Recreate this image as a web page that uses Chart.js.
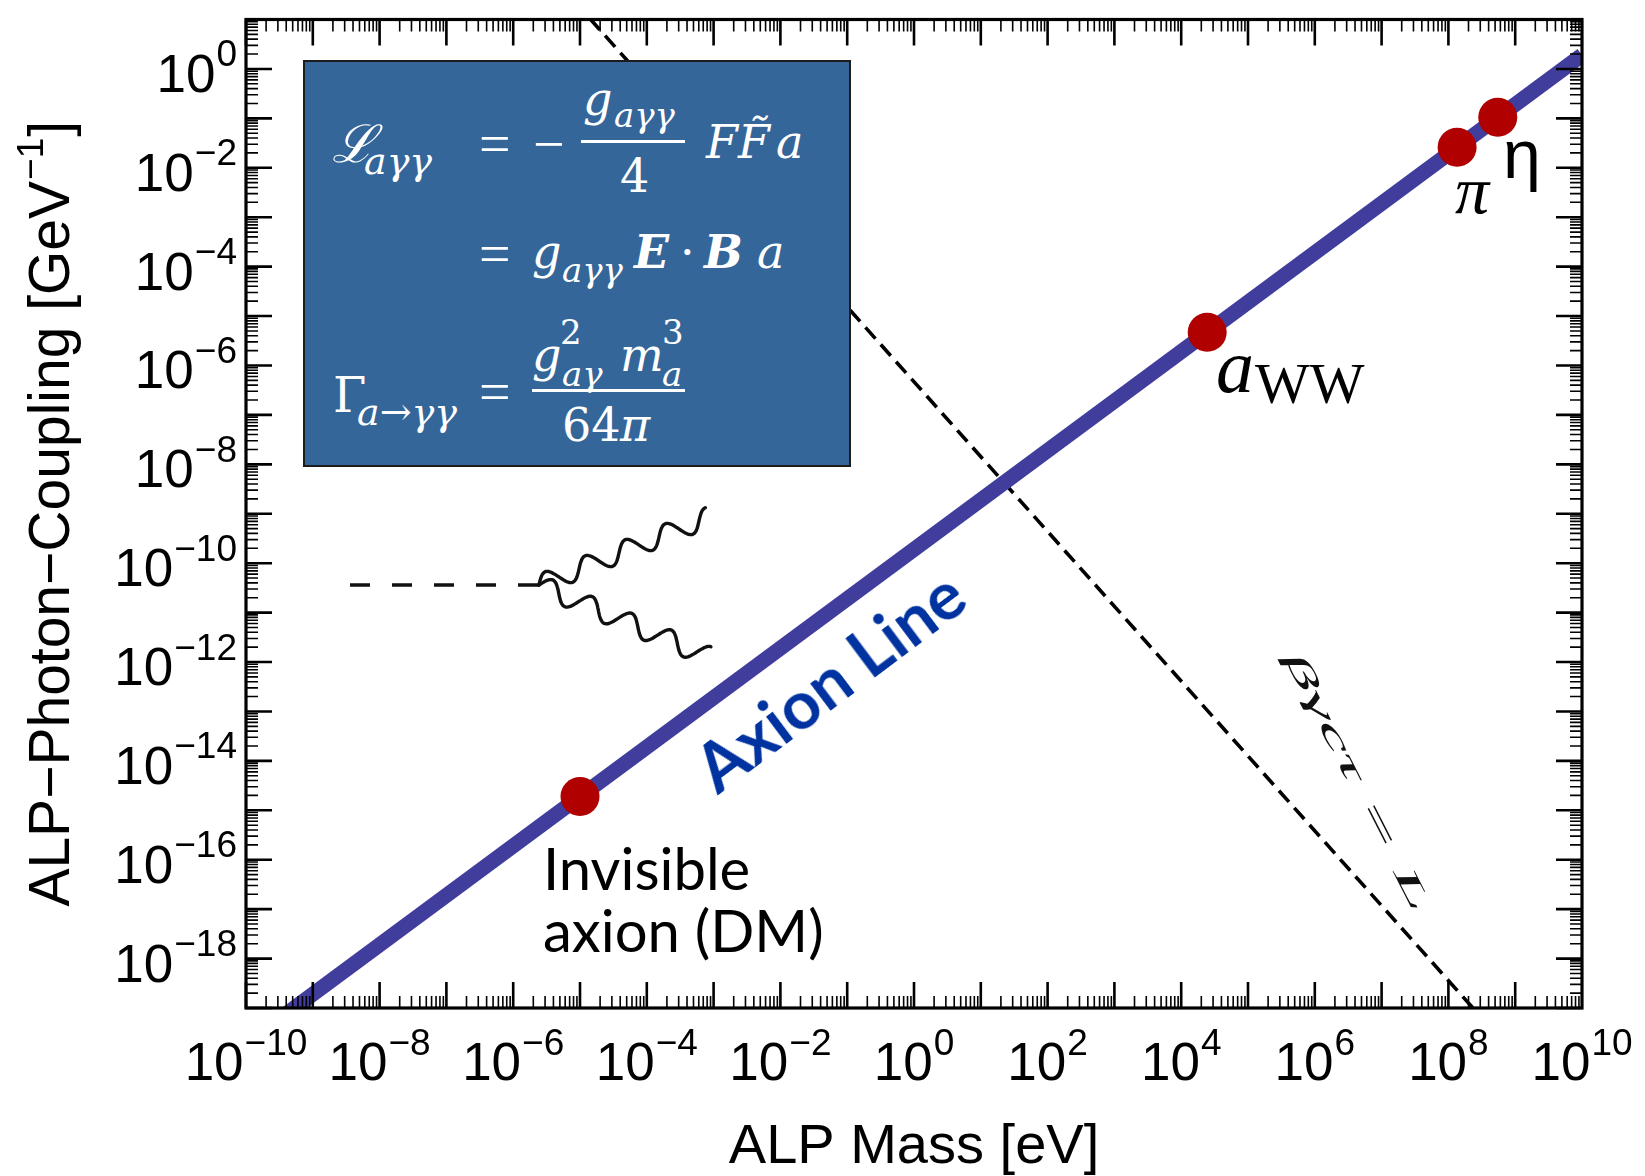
<!DOCTYPE html>
<html><head><meta charset="utf-8">
<script src="https://cdn.jsdelivr.net/npm/chart.js@4.4.1/dist/chart.umd.min.js"></script>
<style>
html,body{margin:0;padding:0;background:#fff;}
#wrap{position:relative;width:1645px;height:1176px;overflow:hidden;background:#fff;}
#c{position:absolute;left:0;top:0;}
#ov{position:absolute;left:0;top:0;width:1645px;height:1176px;}
.t{position:absolute;white-space:nowrap;}
</style></head><body>
<div id="wrap"><canvas id="c" width="1645" height="1176"></canvas><div id="ov"></div></div>
<script>
// ---------------- data ----------------
const massRange = [1e-10, 1e10];          // eV
const couplingRange = [1e-19, 1e1];       // GeV^-1
const xTickExps = [-10, -8, -6, -4, -2, 0, 2, 4, 6, 8, 10];
const yTickExps = [-18, -16, -14, -12, -10, -8, -6, -4, -2, 0];
const axionLineMass = [1e-10, 1e10];
const axionLineCoupling = [1.9e-20, 1.9];
const decayLineMass = [1e-6, 1e9];
const decayLineCoupling = [5.7e2, 1.1e-20];
const pointNames = ['Invisible axion (DM)', 'a_WW', 'π', 'η'];
const pointMass = [1e-5, 2.45e4, 1.35e8, 5.48e8];
const pointCoupling = [1.9e-15, 4.7e-6, 2.6e-2, 1.05e-1];

// ---------------- frame / ticks / axis labels plugin ----------------
const SANS = "'Liberation Sans', Arial, sans-serif";
function pow10(ctx, e, x, yb, align) {
  const B = 53, E = 37;
  const base = '10', ex = (e < 0 ? '\u2212' : '') + Math.abs(e);
  ctx.font = B + 'px ' + SANS; const wb = ctx.measureText(base).width;
  ctx.font = E + 'px ' + SANS; const we = ctx.measureText(ex).width;
  const gap = 1, tot = wb + gap + we;
  const sx = align === 'center' ? x - tot / 2 : x - tot;
  ctx.textAlign = 'left'; ctx.textBaseline = 'alphabetic'; ctx.fillStyle = '#000';
  ctx.font = B + 'px ' + SANS; ctx.fillText(base, sx, yb);
  ctx.font = E + 'px ' + SANS; ctx.fillText(ex, sx + wb + gap, yb - 0.48 * B);
}
const framePlugin = {
  id: 'frame',
  afterDraw(chart) {
    const {ctx, chartArea: a, scales: {x, y}} = chart;
    ctx.save();
    ctx.strokeStyle = '#000';
    const MAJ = 26, MIN = 12;
    for (let e = -10; e < 10; e++) {
      for (let m = 1; m <= 9; m++) {
        const v = m * Math.pow(10, e);
        const px = x.getPixelForValue(v);
        const len = m === 1 ? MAJ : MIN;
        ctx.lineWidth = m === 1 ? 2.6 : 1.6;
        ctx.beginPath();
        ctx.moveTo(px, a.bottom); ctx.lineTo(px, a.bottom - len);
        ctx.moveTo(px, a.top); ctx.lineTo(px, a.top + len);
        ctx.stroke();
      }
    }
    for (let e = -19; e < 1; e++) {
      for (let m = 1; m <= 9; m++) {
        const v = m * Math.pow(10, e);
        const py = y.getPixelForValue(v);
        const len = m === 1 ? MAJ : MIN;
        ctx.lineWidth = m === 1 ? 2.6 : 1.6;
        ctx.beginPath();
        ctx.moveTo(a.left, py); ctx.lineTo(a.left + len, py);
        ctx.moveTo(a.right, py); ctx.lineTo(a.right - len, py);
        ctx.stroke();
      }
    }
    ctx.lineWidth = 3.2;
    ctx.strokeRect(a.left, a.top, a.right - a.left, a.bottom - a.top);

    // tick labels
    xTickExps.forEach(e => pow10(ctx, e, x.getPixelForValue(Math.pow(10, e)), 1080, 'center'));
    yTickExps.forEach(e => pow10(ctx, e, a.left - 9, y.getPixelForValue(Math.pow(10, e)) + 23, 'right'));

    // axis titles
    const T = 56, TS = 37;
    ctx.fillStyle = '#000'; ctx.textAlign = 'left';
    ctx.font = T + 'px ' + SANS;
    const xt = 'ALP Mass [eV]';
    const wxt = ctx.measureText(xt).width;
    ctx.fillText(xt, (a.left + a.right) / 2 - wxt / 2, 1163);

    const p1 = 'ALP\u2212Photon\u2212Coupling [GeV', p2 = '\u22121', p3 = ']';
    const TY = 57;
    ctx.font = TY + 'px ' + SANS; const w1 = ctx.measureText(p1).width, w3 = ctx.measureText(p3).width;
    ctx.font = TS + 'px ' + SANS; const w2 = ctx.measureText(p2).width;
    const tot = w1 + w2 + w3 + 2;
    ctx.translate(69, (a.top + a.bottom) / 2);
    ctx.rotate(-Math.PI / 2);
    let sx = -tot / 2;
    ctx.font = TY + 'px ' + SANS; ctx.fillText(p1, sx, 0); sx += w1 + 1;
    ctx.font = TS + 'px ' + SANS; ctx.fillText(p2, sx, -0.45 * TY); sx += w2 + 1;
    ctx.font = TY + 'px ' + SANS; ctx.fillText(p3, sx, 0);
    ctx.restore();
  }
};

const toXY = (xs, ys) => xs.map((v, i) => ({x: v, y: ys[i]}));
const chart = new Chart(document.getElementById('c'), {
  type: 'scatter',
  data: {
    datasets: [
      {label: 'Benchmarks', data: toXY(pointMass, pointCoupling), showLine: false,
       pointRadius: 19.5, backgroundColor: '#b00000', borderColor: '#b00000', pointBorderWidth: 0, order: 0},
      {label: 'Axion Line', data: toXY(axionLineMass, axionLineCoupling), showLine: true,
       borderColor: '#403d9c', borderWidth: 15, pointRadius: 0, clip: 0, order: 1},
      {label: 'Decay length', data: toXY(decayLineMass, decayLineCoupling), showLine: true,
       borderColor: '#000', borderWidth: 3.6, borderDash: [15, 8], pointRadius: 0, clip: 0, order: 2}
    ]
  },
  options: {
    responsive: false, animation: false, devicePixelRatio: 1, events: [],
    layout: {padding: {left: 246, top: 6, right: 63, bottom: 168}},
    scales: {
      x: {type: 'logarithmic', min: massRange[0], max: massRange[1], display: false},
      y: {type: 'logarithmic', min: couplingRange[0], max: couplingRange[1], display: false}
    },
    plugins: {legend: {display: false}, tooltip: {enabled: false}}
  },
  plugins: [framePlugin]
});

// ---------------- annotations (HTML text) ----------------
const ov = document.getElementById('ov');
const SERIF = "'Liberation Serif', 'DejaVu Serif', serif";
const DSERIF = "'DejaVu Serif', 'Liberation Serif', serif";
function put(str, x, base, size, o) {
  o = o || {};
  const s = document.createElement('span');
  s.className = 't'; s.textContent = str;
  s.style.fontFamily = o.family || DSERIF;
  s.style.fontSize = size + 'px';
  s.style.fontStyle = o.style || 'normal';
  s.style.fontWeight = o.weight || 'normal';
  s.style.lineHeight = '1';
  s.style.color = o.color || '#fff';
  s.style.left = x + 'px';
  s.style.top = (base - (o.k || 0.846) * size) + 'px';
  if (o.transform) { s.style.transform = o.transform; s.style.transformOrigin = o.origin || '50% 50%'; }
  ov.appendChild(s);
  return s;
}
function box(x, y, w, h, style) {
  const d = document.createElement('div');
  d.style.position = 'absolute'; d.style.left = x + 'px'; d.style.top = y + 'px';
  d.style.width = w + 'px'; d.style.height = h + 'px';
  Object.assign(d.style, style || {});
  ov.appendChild(d); return d;
}
// formula box
box(303, 60, 548, 407, {background: '#346699', border: '2px solid #1c1c1c', boxSizing: 'border-box'});
const F = 46, S = 38, I = 'italic', LS = {family: SERIF, k: 0.84};
// line 1
put('\u2112', 332, 162, 52, {style: I});
put('a\u03b3\u03b3', 364, 174, S, {style: I});
put('=', 479, 163, 56, LS);
put('\u2212', 533, 163, 56, LS);
put('g', 583, 115, F, {style: I});
put('a\u03b3\u03b3', 614, 127, S - 4, {style: I});
box(581, 140, 104, 3, {background: '#fff'});
put('4', 620, 192, F);
put('F', 706, 158, F, {style: I});
put('F\u0303', 738, 158, F, {style: I});
put('a', 776, 158, F, {style: I});
// line 2
put('=', 479, 273, 56, LS);
put('g', 532, 268, F, {style: I});
put('a\u03b3\u03b3', 562, 282, S - 4, {style: I});
put('E', 634, 268, F, {style: I, weight: 'bold'});
put('\u00b7', 680, 268, F);
put('B', 704, 268, F, {style: I, weight: 'bold'});
put('a', 757, 268, F, {style: I});
// line 3
put('\u0393', 333, 412, 48);
put('a\u2192\u03b3\u03b3', 357, 425, S, {style: I});
put('=', 479, 411, 56, LS);
put('g', 532, 371, F, {style: I});
put('2', 560, 344, S - 4);
put('a\u03b3', 562, 386, S - 4, {style: I});
put('m', 620, 371, F, {style: I});
put('3', 662, 344, S - 4);
put('a', 662, 386, S - 4, {style: I});
box(532, 389, 153, 3, {background: '#fff'});
put('64', 562, 441, F);
put('\u03c0', 620, 441, F, {style: I});

// labels
const LATO = "Lato, 'Open Sans', sans-serif";
const ax = put('Axion Line', 0, 0, 67, {family: LATO, weight: 'bold', color: '#0033a0'});
ax.style.left = '829px'; ax.style.top = '680px';
ax.style.transform = 'translate(-50%,-50%) rotate(-36.9deg)';
put('Invisible', 543, 890, 58, {family: LATO, color: '#000', k: 0.887});
put('axion (DM)', 543, 952, 58, {family: LATO, color: '#000', k: 0.887});
put('a', 1216, 392, 76, {family: SERIF, k: 0.84, style: I, color: '#000'});
put('WW', 1255, 404, 58, {family: SERIF, k: 0.84, color: '#000'});
put('\u03c0', 1455, 213, 68, {family: SERIF, k: 0.84, style: I, color: '#000'});
put('\u03b7', 1503, 178, 68, {family: SANS, color: '#000', k: 0.8465});
const dl = put('\u03b2\u03b3c\u03c4 = L', 0, 0, 84, {family: SERIF, k: 0.84, style: I, color: '#111'});
dl.style.left = '1358px'; dl.style.top = '781px';
dl.style.transform = 'translate(-50%,-50%) rotate(63deg) scale(1,0.36)';

// decay diagram (decoration)
const NS = 'http://www.w3.org/2000/svg';
const svg = document.createElementNS(NS, 'svg');
svg.setAttribute('width', '1645'); svg.setAttribute('height', '1176');
svg.style.position = 'absolute'; svg.style.left = '0'; svg.style.top = '0';
ov.appendChild(svg);
const ln = document.createElementNS(NS, 'line');
ln.setAttribute('x1', 350); ln.setAttribute('y1', 585); ln.setAttribute('x2', 539); ln.setAttribute('y2', 585);
ln.setAttribute('stroke', '#111'); ln.setAttribute('stroke-width', 3.5); ln.setAttribute('stroke-dasharray', '20 22');
svg.appendChild(ln);
function wave(x0, y0, x1, y1, periods, amp, sign) {
  const dx = x1 - x0, dy = y1 - y0, L = Math.hypot(dx, dy);
  const ux = dx / L, uy = dy / L, nx = -uy, ny = ux;
  let d = '';
  const N = 240;
  for (let i = 0; i <= N; i++) {
    const t = i / N;
    const off = sign * amp * Math.sin(2 * Math.PI * periods * t);
    const px = x0 + dx * t + nx * off, py = y0 + dy * t + ny * off;
    d += (i ? 'L' : 'M') + px.toFixed(1) + ' ' + py.toFixed(1);
  }
  const p = document.createElementNS(NS, 'path');
  p.setAttribute('d', d); p.setAttribute('fill', 'none');
  p.setAttribute('stroke', '#111'); p.setAttribute('stroke-width', 3.4);
  p.setAttribute('stroke-linecap', 'round');
  svg.appendChild(p);
}
wave(539, 585, 709, 517, 4.25, 10, -1);
wave(539, 585, 707, 656, 4.25, 10, -1);
</script>
</body></html>
